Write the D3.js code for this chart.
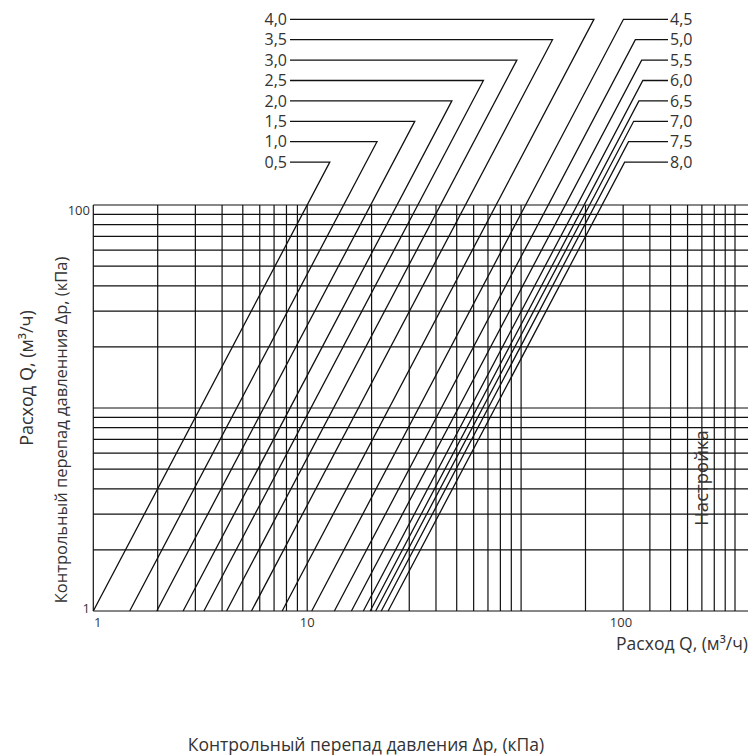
<html>
<head>
<title>Настройка клапана | D3</title>
<script src="https://d3js.org/d3.v7.min.js" charset="utf-8"></script>
<style>
body {
  margin: 0;
  background: #fff;
  font-family: "Open Sans", "Noto Sans", sans-serif;
}
text {
  fill: #333;
}
</style>
</head>
<body>
<script>
  // settings of the valve and their Kv values (line crosses dp = 1 at Q = Kv)
  var settings = ["0,5", "1,0", "1,5", "2,0", "2,5", "3,0", "3,5", "4,0",
                  "4,5", "5,0", "5,5", "6,0", "6,5", "7,0", "7,5", "8,0"];
  var kvValues = [1.0, 1.48, 1.98, 2.63, 3.29, 4.2, 5.49, 7.64,
                  10.5, 13.4, 16.1, 18.3, 19.7, 20.9, 22.2, 23.9];

  // log grid
  var xGrid = [1, 2, 3, 4, 5, 6, 7, 8, 9, 10, 20, 30, 40, 50, 60, 70, 80, 90, 100,
               200, 300, 400, 500, 600, 700, 800, 900, 1000];
  var yGrid = [1, 2, 3, 4, 5, 6, 7, 8, 9, 10, 20, 30, 40, 50, 60, 70, 80, 90, 100];

  // tick labels as printed on the original
  var xTickValues = [1.05, 10, 293];
  var xTickText = ["1", "10", "100"];
  var yTickValues = [1, 100];
  var yTickText = ["1", "100"];

  var width = 753;
  var height = 756;

  var svg = d3.select("body")
    .append("svg")
    .attr("width", width)
    .attr("height", height);

  var x = d3.scaleLog().domain([1, 1000]).range([93.3, 735]);
  var y = d3.scaleLog().domain([1, 100]).range([611, 205]);

  // grid
  var grid = svg.append("g")
    .attr("stroke", "#111")
    .attr("stroke-width", 1.2);

  grid.selectAll(".v")
    .data(xGrid)
    .enter()
    .append("line")
    .attr("class", "v")
    .attr("x1", function(d) { return x(d); })
    .attr("x2", function(d) { return x(d); })
    .attr("y1", y(1))
    .attr("y2", y(100));

  grid.selectAll(".h")
    .data(yGrid)
    .enter()
    .append("line")
    .attr("class", "h")
    .attr("x1", x(1))
    .attr("x2", 748)
    .attr("y1", function(d) { return y(d); })
    .attr("y2", function(d) { return y(d); });

  // label rows above the plot, left column 4,0..0,5 and right column 4,5..8,0
  var rowTop = 19.3;
  var rowStep = 20.4;
  function rowOf(i) { return i < 8 ? 7 - i : i - 8; }

  var line = d3.line()
    .x(function(d) { return x(d[0]); })
    .y(function(d) { return y(d[1]); });

  var curves = settings.map(function(s, i) {
    var ry = rowTop + rowOf(i) * rowStep;
    var dpTop = y.invert(ry);
    var qTop = kvValues[i] * Math.sqrt(dpTop);
    var endPx = i < 8 ? 290 : 668;
    return {
      label: s,
      left: i < 8,
      ry: ry,
      pts: [[kvValues[i], 1], [qTop, dpTop], [x.invert(endPx), dpTop]]
    };
  });

  svg.append("g")
    .selectAll("path")
    .data(curves)
    .enter()
    .append("path")
    .attr("fill", "none")
    .attr("stroke", "#111")
    .attr("stroke-width", 1.3)
    .attr("d", function(d) { return line(d.pts); });

  svg.append("g")
    .selectAll("text")
    .data(curves)
    .enter()
    .append("text")
    .attr("x", function(d) { return d.left ? 287 : 670; })
    .attr("y", function(d) { return d.ry; })
    .attr("dy", "0.36em")
    .attr("text-anchor", function(d) { return d.left ? "end" : "start"; })
    .style("font-size", "16px")
    .text(function(d) { return d.label; });

  // tick labels
  svg.append("g")
    .selectAll("text")
    .data(xTickValues)
    .enter()
    .append("text")
    .attr("x", function(d) { return x(d); })
    .attr("y", y(1) + 16)
    .attr("text-anchor", "middle")
    .style("font-size", "13px")
    .text(function(d, i) { return xTickText[i]; });

  svg.append("g")
    .selectAll("text")
    .data(yTickValues)
    .enter()
    .append("text")
    .attr("x", 90)
    .attr("y", function(d) { return y(d) + (d === 100 ? 10 : 2); })
    .attr("text-anchor", "end")
    .style("font-size", "13px")
    .text(function(d, i) { return yTickText[i]; });

  // titles
  svg.append("text")
    .attr("transform", "translate(33,378) rotate(-90)")
    .attr("text-anchor", "middle")
    .style("font-size", "18px")
    .text("Расход Q, (м³/ч)");

  svg.append("text")
    .attr("transform", "translate(67,430) rotate(-90)")
    .attr("text-anchor", "middle")
    .style("font-size", "16.5px")
    .text("Контрольный перепад давленния Δр, (кПа)");

  svg.append("text")
    .attr("transform", "translate(708,478) rotate(-90)")
    .attr("text-anchor", "middle")
    .style("font-size", "18.5px")
    .text("Настройка");

  svg.append("text")
    .attr("x", 748)
    .attr("y", 650)
    .attr("text-anchor", "end")
    .style("font-size", "17.5px")
    .text("Расход Q, (м³/ч)");

  svg.append("text")
    .attr("x", 366)
    .attr("y", 751)
    .attr("text-anchor", "middle")
    .style("font-size", "17.5px")
    .text("Контрольный перепад давления Δр, (кПа)");
</script>
</body>
</html>
